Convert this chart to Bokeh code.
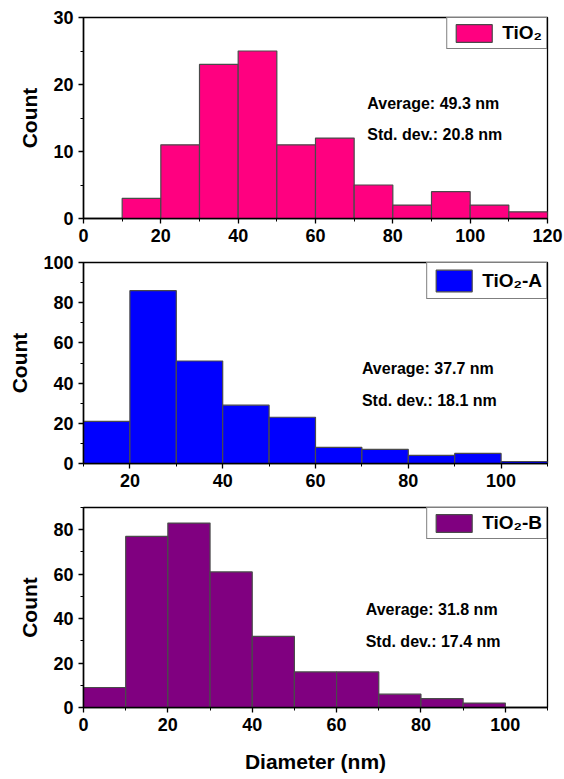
from bokeh.plotting import figure
from bokeh.layouts import column
from bokeh.models import Range1d, FixedTicker, Label, Legend, LegendItem
from bokeh.embed import file_html
from bokeh.resources import INLINE

FONT = "Liberation Sans"

# ---------------- data ----------------
tio2_edges = [10, 20, 30, 40, 50, 60, 70, 80, 90, 100, 110, 120]
tio2_counts = [3, 11, 23, 25, 11, 12, 5, 2, 4, 2, 1]

tio2a_edges = [10, 20, 30, 40, 50, 60, 70, 80, 90, 100, 110]
tio2a_counts = [21, 86, 51, 29, 23, 8, 7, 4, 5, 1]

tio2b_edges = [0, 10, 20, 30, 40, 50, 60, 70, 80, 90, 100]
tio2b_counts = [9, 77, 83, 61, 32, 16, 16, 6, 4, 2]

names = ["TiO\u2082", "TiO\u2082-A", "TiO\u2082-B"]
averages = ["Average: 49.3 nm", "Average: 37.7 nm", "Average: 31.8 nm"]
stddevs = ["Std. dev.: 20.8 nm", "Std. dev.: 18.1 nm", "Std. dev.: 17.4 nm"]

x_label = "Diameter (nm)"
y_label = "Count"


def make_panel(edges, counts, color, name, avg, sd, xr, yr, xmajor, xminor,
               ymajor, yminor, text_x, text_y1, text_y2, top, bottom,
               frame_h, glyph_h, xlabel=None):
    p = figure(frame_width=464, frame_height=frame_h,
               x_range=Range1d(*xr), y_range=Range1d(*yr),
               output_backend="svg", toolbar_location=None,
               min_border_left=83, min_border_right=17,
               min_border_top=top, min_border_bottom=bottom)
    p.grid.visible = False
    p.outline_line_color = "black"
    p.outline_line_width = 1.3
    p.outline_line_alpha = 1.0
    p.background_fill_color = "white"
    p.border_fill_color = "white"

    r = p.quad(left=edges[:-1], right=edges[1:], top=counts, bottom=0,
               fill_color=color, line_color="#4a4a4a", line_width=1.2)

    for ax, major, minor in ((p.xaxis[0], xmajor, xminor),
                             (p.yaxis[0], ymajor, yminor)):
        ax.ticker = FixedTicker(ticks=major, minor_ticks=minor)
        ax.axis_line_width = 1.5
        ax.axis_line_color = "black"
        ax.major_tick_line_color = "black"
        ax.minor_tick_line_color = "black"
        ax.major_tick_line_width = 1.3
        ax.minor_tick_line_width = 1.0
        ax.major_tick_in = 0
        ax.major_tick_out = 5
        ax.minor_tick_in = 0
        ax.minor_tick_out = 3
        ax.major_label_text_font = FONT
        ax.major_label_text_font_style = "bold"
        ax.major_label_text_font_size = "18px"
        ax.major_label_text_color = "black"
        ax.major_label_standoff = 5
        ax.axis_label_text_font = FONT
        ax.axis_label_text_font_style = "bold"
        ax.axis_label_text_font_size = "21px"
        ax.axis_label_text_color = "black"

    p.yaxis.axis_label = y_label
    p.yaxis.axis_label_standoff = 9
    if xlabel:
        p.xaxis.axis_label = xlabel
        p.xaxis.axis_label_standoff = 16

    legend = Legend(items=[LegendItem(label=name, renderers=[r])],
                    location="top_right", orientation="vertical",
                    glyph_width=45, glyph_height=glyph_h, label_standoff=6,
                    padding=4, margin=0, spacing=0,
                    border_line_color="black", border_line_width=1.2,
                    background_fill_alpha=1.0,
                    label_text_font=FONT, label_text_font_style="bold",
                    label_text_font_size="19px", label_text_color="black")
    p.add_layout(legend)

    for t, ty in ((avg, text_y1), (sd, text_y2)):
        p.add_layout(Label(x=text_x, y=ty, text=t, text_font=FONT,
                           text_font_style="bold", text_font_size="16px",
                           text_color="black", text_baseline="middle",
                           text_align="left"))
    return p


p1 = make_panel(tio2_edges, tio2_counts, "#FF0080", names[0], averages[0], stddevs[0],
                (0, 120), (0, 30), [0, 20, 40, 60, 80, 100, 120],
                [10, 30, 50, 70, 90, 110], [0, 10, 20, 30], [5, 15, 25],
                73.4, 17.2, 12.5, 17, 31, 201, 22)

p2 = make_panel(tio2a_edges, tio2a_counts, "#0000FF", names[1], averages[1], stddevs[1],
                (10, 110), (0, 100), [20, 40, 60, 80, 100],
                [10, 30, 50, 70, 90, 110], [0, 20, 40, 60, 80, 100],
                [10, 30, 50, 70, 90], 70.0, 47.2, 31.4, 13, 31, 201, 27)

p3 = make_panel(tio2b_edges, tio2b_counts, "#800080", names[2], averages[2], stddevs[2],
                (0, 110), (0, 90), [0, 20, 40, 60, 80, 100],
                [10, 30, 50, 70, 90, 110], [0, 20, 40, 60, 80],
                [10, 30, 50, 70, 90], 66.9, 43.9, 29.8, 13, 72, 200, 22,
                xlabel=x_label)

layout = column(p1, p2, p3, spacing=0)

open("out.html", "w").write(file_html(layout, INLINE))
